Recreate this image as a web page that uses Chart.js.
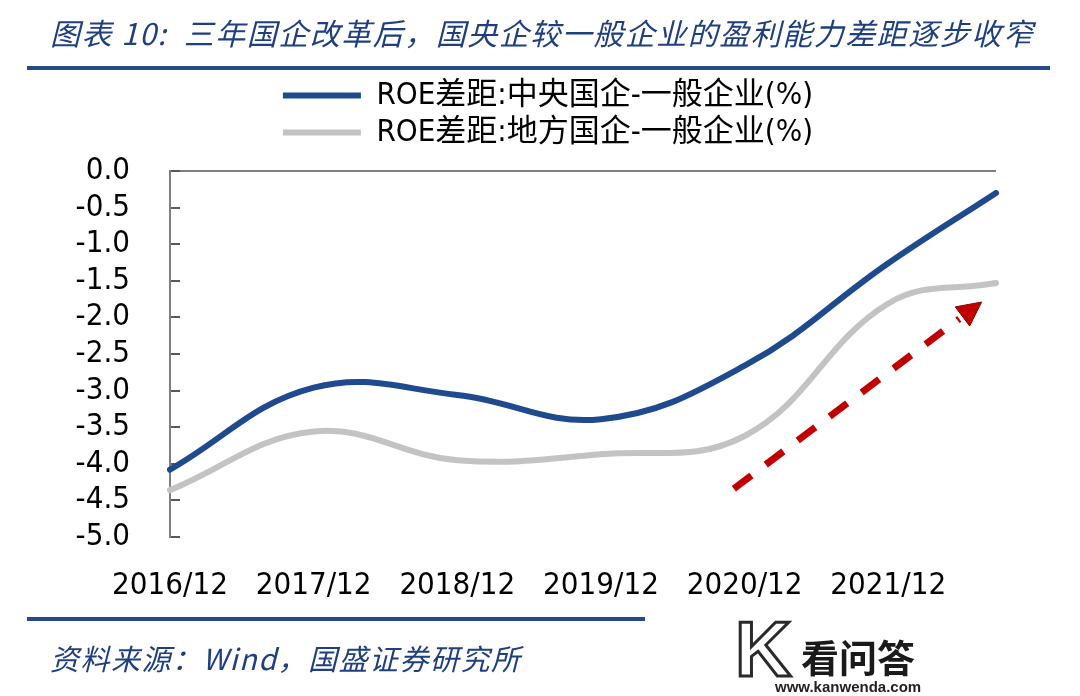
<!DOCTYPE html>
<html><head><meta charset="utf-8">
<script src="https://cdn.jsdelivr.net/npm/chart.js@4/dist/chart.umd.min.js"></script>
<style>
html,body{margin:0;padding:0;background:#fff;}
body{width:1080px;height:696px;position:relative;overflow:hidden;font-family:"Noto Sans CJK SC",sans-serif;}
#wrap{position:absolute;left:0;top:0;width:1080px;height:696px;}
#title{position:absolute;left:50px;top:12px;font-size:30px;line-height:40px;font-style:italic;color:#1f3f7f;white-space:nowrap;letter-spacing:1.5px;}
.rule{position:absolute;background:#254a85;}
#src{position:absolute;left:50px;top:637px;font-size:29px;line-height:40px;font-style:italic;color:#1f3f7f;white-space:nowrap;letter-spacing:1.5px;}
#wm{position:absolute;left:735px;top:612px;width:200px;height:84px;}
#wmK{position:absolute;left:0;top:-8px;font-family:"Liberation Sans",sans-serif;font-weight:bold;font-size:78px;line-height:90px;color:#fff;-webkit-text-stroke:3px #2a2a2a;}
#wmT{position:absolute;left:66px;top:22px;font-size:38px;line-height:44px;font-weight:bold;color:#1a1a1a;}
#wmU{position:absolute;left:40px;top:66px;font-family:"Liberation Sans Narrow","Liberation Sans",sans-serif;font-size:15px;line-height:18px;color:#222;font-weight:bold;}
</style>
</head>
<body>
<div id="wrap"><canvas id="c" width="1080" height="696"></canvas></div>
<div id="title">图表 10:&nbsp; 三年国企改革后，国央企较一般企业的盈利能力差距逐步收窄</div>
<div class="rule" style="left:27px;top:66px;width:1023px;height:4px;"></div>
<div class="rule" style="left:27px;top:617px;width:618px;height:4px;"></div>
<div id="src">资料来源：Wind，国盛证券研究所</div>
<div id="wm"><div id="wmK">K</div><div id="wmT">看问答</div><div id="wmU">www.kanwenda.com</div></div>
<script>
// ---- data ----
const quarterLabels = ['2016/12','2017/03','2017/06','2017/09','2017/12','2018/03','2018/06','2018/09',
  '2018/12','2019/03','2019/06','2019/09','2019/12','2020/03','2020/06','2020/09',
  '2020/12','2021/03','2021/06','2021/09','2021/12','2022/03','2022/06','2022/09'];
const xTickLabels = ['2016/12','2017/12','2018/12','2019/12','2020/12','2021/12'];
const sampleDates = ['2016/12','2017/12','2018/12','2019/12','2020/12','2021/12','2022/09'];
const centralGap = [-4.08, -2.96, -3.06, -3.39, -2.66, -1.26, -0.30];
const localGap   = [-4.36, -3.56, -3.95, -3.87, -3.62, -1.81, -1.53];
const seriesNames = ['ROE差距:中央国企-一般企业(%)', 'ROE差距:地方国企-一般企业(%)'];
const yTicks = {min: -5, max: 0, step: 0.5};
// trend arrow annotation (quarter index, value)
const arrowFrom = {q: 15.7, v: -4.34};
const arrowTo   = {q: 22.6, v: -1.79};

const TICK_FONT = "'DejaVu Sans Condensed','DejaVu Sans',sans-serif";

const legendLayoutPlugin = {
  id: 'legendLayout',
  beforeInit(chart) {
    const lg = chart.legend;
    if (!lg) return;
    const orig = lg.fit;
    lg.fit = function () { orig.call(this); this.height = 97; };
  },
  afterLayout(chart) {
    if (chart.legend) chart.legend.left = 100;
  }
};

const arrowPlugin = {
  id: 'trendArrow',
  afterDatasetsDraw(chart) {
    const {ctx, scales: {x, y}} = chart;
    const x0 = x.getPixelForValue(arrowFrom.q), y0 = y.getPixelForValue(arrowFrom.v);
    const x1 = x.getPixelForValue(arrowTo.q),   y1 = y.getPixelForValue(arrowTo.v);
    const dx = x1 - x0, dy = y1 - y0, len = Math.hypot(dx, dy);
    const ux = dx / len, uy = dy / len;
    const headLen = 24, headW = 24;
    const bx = x1 - ux * headLen, by = y1 - uy * headLen;
    ctx.save();
    ctx.strokeStyle = '#C00000';
    ctx.lineWidth = 7;
    ctx.setLineDash([22, 18]);
    ctx.lineCap = 'butt';
    ctx.beginPath();
    ctx.moveTo(x0, y0);
    ctx.lineTo(bx - ux * 4, by - uy * 4);
    ctx.stroke();
    ctx.setLineDash([]);
    ctx.beginPath();
    ctx.moveTo(x1, y1);
    ctx.lineTo(bx - uy * headW / 2, by + ux * headW / 2);
    ctx.lineTo(bx + uy * headW / 2, by - ux * headW / 2);
    ctx.closePath();
    ctx.fillStyle = '#C00000';
    ctx.fill();
    ctx.lineWidth = 1;
    ctx.strokeStyle = '#8a0000';
    ctx.stroke();
    ctx.restore();
  }
};

const toPoints = (vals) => sampleDates.map((d, i) => ({x: d, y: vals[i]}));

new Chart(document.getElementById('c'), {
  type: 'line',
  data: {
    labels: quarterLabels,
    datasets: [
      {label: seriesNames[0], data: toPoints(centralGap), borderColor: '#1F4A8E', backgroundColor: '#1F4A8E',
       borderWidth: 6, pointRadius: 0, tension: 0.4, borderCapStyle: 'round'},
      {label: seriesNames[1], data: toPoints(localGap), borderColor: '#C3C3C3', backgroundColor: '#C3C3C3',
       borderWidth: 6, pointRadius: 0, tension: 0.4, borderCapStyle: 'round'}
    ]
  },
  options: {
    responsive: false,
    animation: false,
    devicePixelRatio: 1,
    layout: {padding: {top: 74, left: 0, right: 84, bottom: 0}},
    plugins: {
      tooltip: {enabled: false},
      legend: {
        display: true,
        position: 'top',
        labels: {
          boxWidth: 78, boxHeight: 6, padding: 6, color: '#000',
          font: {size: 31, family: "'DejaVu Sans Condensed','Noto Sans CJK SC',sans-serif"},
          generateLabels(chart) {
            const items = Chart.defaults.plugins.legend.labels.generateLabels(chart);
            items.forEach(it => { it.lineWidth = 0; });
            return items;
          }
        }
      }
    },
    scales: {
      x: {
        type: 'category',
        offset: false,
        grid: {display: false},
        border: {display: false},
        ticks: {
          autoSkip: false, maxRotation: 0, minRotation: 0, padding: 22, color: '#000',
          font: {size: 31, family: TICK_FONT},
          callback(val) { const l = this.getLabelForValue(val); return xTickLabels.includes(l) ? l : ''; }
        },
        afterFit(s) { s.height = 159; }
      },
      y: {
        min: yTicks.min, max: yTicks.max,
        border: {display: true, color: '#7f7f7f', width: 2},
        grid: {
          drawOnChartArea: true,
          color: (c) => (c.tick && c.tick.value === 0) ? '#7f7f7f' : 'rgba(0,0,0,0)',
          lineWidth: 2,
          drawTicks: true, tickLength: -10, tickColor: '#5a5a5a', tickWidth: 2
        },
        ticks: {
          autoSkip: false,
          stepSize: yTicks.step, padding: 50, color: '#000',
          font: {size: 31, family: TICK_FONT},
          callback: (v) => Number(v).toFixed(1)
        },
        afterFit(s) { s.width = 170; }
      }
    }
  },
  plugins: [legendLayoutPlugin, arrowPlugin]
});
</script>
</body></html>
